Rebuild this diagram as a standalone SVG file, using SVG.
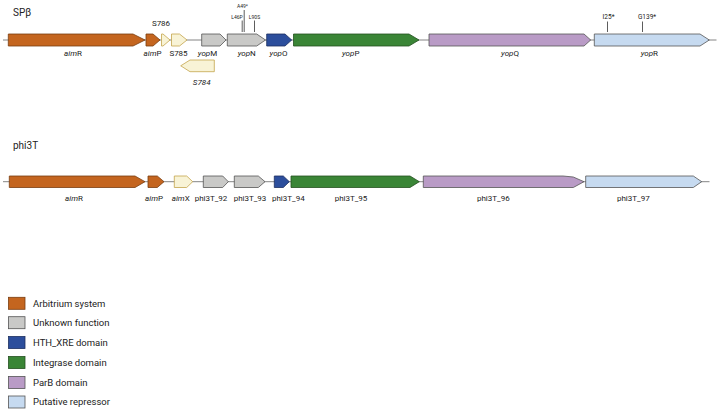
<svg xmlns="http://www.w3.org/2000/svg" width="718" height="413" viewBox="0 0 718 413">
<style>
text{font-family:Roboto,"Liberation Sans",sans-serif;fill:#222}
.t{font-size:10px}
.g{font-size:8px;text-anchor:middle}
.i{font-style:italic}
.m{font-size:5px;text-anchor:middle}
.m2{font-size:6.5px;text-anchor:middle}
.lg{font-size:9.5px}
.bb{stroke:#333;stroke-width:0.8}
.ln{stroke:#666;stroke-width:0.8;fill:none}
.arb{fill:#C4651F;stroke:#7a3d10;stroke-width:0.8}
.unk{fill:#C9C9C7;stroke:#555;stroke-width:0.8}
.hth{fill:#2C4E9C;stroke:#1c2f60;stroke-width:0.8}
.int{fill:#3A8536;stroke:#245020;stroke-width:0.8}
.parb{fill:#B99BC6;stroke:#555;stroke-width:0.8}
.rep{fill:#C6DAF0;stroke:#555;stroke-width:0.8}
.pal{fill:#F8F3D6;stroke:#C4A54C;stroke-width:0.8}
</style>
<text class="t" x="13" y="16">SPβ</text>
<text class="t" x="13" y="149">phi3T</text>
<g id="connectors">
<line class="ln" x1="3" y1="40" x2="716.5" y2="40"/>
<line class="ln" x1="3" y1="181.7" x2="709.5" y2="181.7"/>
<line class="bb" x1="244.2" y1="10" x2="244.2" y2="32"/>
<line class="bb" x1="242.2" y1="20.5" x2="242.2" y2="32"/>
<line class="bb" x1="254.5" y1="20.5" x2="254.5" y2="32"/>
<line class="bb" x1="607.5" y1="21.5" x2="607.5" y2="32"/>
<line class="bb" x1="642.5" y1="21.5" x2="642.5" y2="32"/>
</g>
<g id="sp-aimR"><polygon class="arb" points="8.3,34 133,34 145,40 133,46 8.3,46"/><text class="g" x="73" y="56"><tspan class="i">aim</tspan>R</text></g>
<g id="sp-aimP"><polygon class="arb" points="146,34 153,34 160,40 153,46 146,46"/><text class="g" x="152.5" y="56"><tspan class="i">aim</tspan>P</text></g>
<g id="sp-S786"><polygon class="pal" points="161.5,34 163,34 170,40 163,46 161.5,46"/><text class="g" x="161" y="26">S786</text></g>
<g id="sp-S785"><polygon class="pal" points="171.5,34 179.5,34 187,40 179.5,46 171.5,46"/><text class="g" x="178.5" y="56">S785</text></g>
<g id="sp-S784"><polygon class="pal" points="214.3,60 190,60 180.7,65.8 190,71.7 214.3,71.7"/><text class="g i" x="201.7" y="85">S784</text></g>
<g id="sp-yopM"><polygon class="unk" points="201.7,34 220,34 226,40 220,46 201.7,46"/><text class="g" x="207.5" y="56"><tspan class="i">yop</tspan>M</text></g>
<g id="sp-yopN"><polygon class="unk" points="227.3,34 256.7,34 265.5,40 256.7,46 227.3,46"/><text class="g" x="246.7" y="56"><tspan class="i">yop</tspan>N</text>
<text class="m" x="242.5" y="8">A49*</text><text class="m" x="237" y="19">L46P</text><text class="m" x="254.5" y="19">L90S</text></g>
<g id="sp-yopO"><polygon class="hth" points="266.7,34 285,34 291.7,40 285,46 266.7,46"/><text class="g" x="278.5" y="56"><tspan class="i">yop</tspan>O</text></g>
<g id="sp-yopP"><polygon class="int" points="293.5,34 409,34 419,40 409,46 293.5,46"/><text class="g" x="350.7" y="56"><tspan class="i">yop</tspan>P</text></g>
<g id="sp-yopQ"><polygon class="parb" points="429,34 584,34 590.7,40 584,46 429,46"/><text class="g" x="510" y="56"><tspan class="i">yop</tspan>Q</text></g>
<g id="sp-yopR"><polygon class="rep" points="594.3,34 700,34 709.3,40 700,46 594.3,46"/><text class="g" x="649.3" y="56"><tspan class="i">yop</tspan>R</text>
<text class="m2" x="608.5" y="19">I25*</text><text class="m2" x="647" y="19">G139*</text></g>
<g id="ph-aimR"><polygon class="arb" points="9.3,176 135,176 145,181.7 135,187.5 9.3,187.5"/><text class="g" x="74" y="201"><tspan class="i">aim</tspan>R</text></g>
<g id="ph-aimP"><polygon class="arb" points="148,176 157.3,176 164,181.7 157.3,187.5 148,187.5"/><text class="g" x="154" y="201"><tspan class="i">aim</tspan>P</text></g>
<g id="ph-aimX"><polygon class="pal" points="174.3,176 186.7,176 192.7,181.7 186.7,187.5 174.3,187.5"/><text class="g" x="180.7" y="201"><tspan class="i">aim</tspan>X</text></g>
<g id="ph-92"><polygon class="unk" points="203.3,176 222.7,176 228.3,181.7 222.7,187.5 203.3,187.5"/><text class="g" x="211" y="201">phi3T_92</text></g>
<g id="ph-93"><polygon class="unk" points="234.3,176 258.3,176 265,181.7 258.3,187.5 234.3,187.5"/><text class="g" x="250" y="201">phi3T_93</text></g>
<g id="ph-94"><polygon class="hth" points="274.3,176 283.3,176 289.3,181.7 283.3,187.5 274.3,187.5"/><text class="g" x="288.3" y="201">phi3T_94</text></g>
<g id="ph-95"><polygon class="int" points="291,176 410,176 419.3,181.7 410,187.5 291,187.5"/><text class="g" x="351" y="201">phi3T_95</text></g>
<g id="ph-96"><polygon class="parb" points="423.3,176 563,176 573.3,177 584,181.7 573.3,187.5 423.3,187.5"/><text class="g" x="493.3" y="201">phi3T_96</text></g>
<g id="ph-97"><polygon class="rep" points="585.7,176 693.3,176 701.7,181.7 693.3,187.5 585.7,187.5"/><text class="g" x="633.3" y="201">phi3T_97</text></g>
<g id="legend">
<rect class="arb" x="8.5" y="297.3" width="16.5" height="12"/><text class="lg" x="33" y="306.5">Arbitrium system</text>
<rect class="unk" x="8.5" y="316.7" width="16.5" height="12"/><text class="lg" x="33" y="326">Unknown function</text>
<rect class="hth" x="8.5" y="336.5" width="16.5" height="12"/><text class="lg" x="33" y="345.5">HTH_XRE domain</text>
<rect class="int" x="8.5" y="356.5" width="16.5" height="12"/><text class="lg" x="33" y="365.5">Integrase domain</text>
<rect class="parb" x="8.5" y="376.5" width="16.5" height="12"/><text class="lg" x="33" y="385.5">ParB domain</text>
<rect class="rep" x="8.5" y="396" width="16.5" height="12"/><text class="lg" x="33" y="405">Putative repressor</text>
</g>
</svg>
